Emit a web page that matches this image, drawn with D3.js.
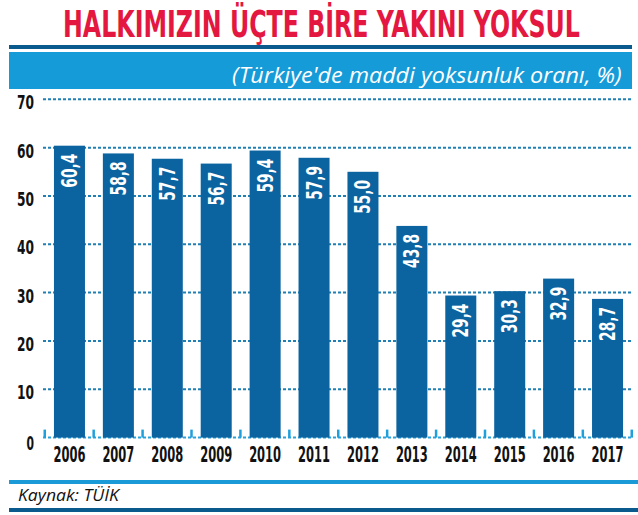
<!DOCTYPE html>
<html>
<head>
<meta charset="utf-8">
<script src="https://cdn.jsdelivr.net/npm/d3@7"></script>
<style>
  body { margin: 0; background: #fff; }
  svg { display: block; }
</style>
</head>
<body>
<div class="chart"></div>
<script>
// chart data
var years = ['2006', '2007', '2008', '2009', '2010', '2011', '2012', '2013', '2014', '2015', '2016', '2017'];
var rates = [60.4, 58.8, 57.7, 56.7, 59.4, 57.9, 55.0, 43.8, 29.4, 30.3, 32.9, 28.7];
var yTicks = [0, 10, 20, 30, 40, 50, 60, 70];
var title = 'HALKIMIZIN ÜÇTE BİRE YAKINI YOKSUL';
var subtitle = '(Türkiye\'de maddi yoksunluk oranı, %)';
var source = 'Kaynak: TÜİK';

var W = 638, H = 515;
var condensed = '"DejaVu Sans Condensed", "Liberation Sans Narrow", sans-serif';

var svg = d3.select('.chart')
  .append('svg')
  .attr('width', W)
  .attr('height', H);

// squeeze a text to a given width (the fonts here are wider than the original)
// x,y = left edge/baseline, rot = optional rotation
function squeeze(node, x, y, width, rot) {
  var len = node.getComputedTextLength();
  var s = width / len;
  var t = 'translate(' + x + ',' + y + ')';
  if (rot) t += ' rotate(' + rot + ')';
  d3.select(node).attr('transform', t + ' scale(' + s + ',1)');
}

// title
svg.append('text')
  .style('font-family', condensed)
  .style('font-weight', 'bold')
  .style('font-size', '37px')
  .style('fill', '#e3173f')
  .text(title)
  .each(function() { squeeze(this, 63, 37, 517); });

// header band
svg.append('rect').attr('x', 9).attr('y', 45).attr('width', 623).attr('height', 4).style('fill', '#0b5a8e');
svg.append('rect').attr('x', 9).attr('y', 52).attr('width', 623).attr('height', 37).style('fill', '#159bd8');

svg.append('text')
  .style('font-family', '"Open Sans", sans-serif')
  .style('font-style', 'italic')
  .style('font-size', '22px')
  .style('fill', '#fff')
  .text(subtitle)
  .each(function() { squeeze(this, 232, 83, 390); });

// scales
var xScale = d3.scaleBand()
  .domain(years)
  .range([45, 632])
  .paddingInner(0.366)
  .paddingOuter(0.183);

var yScale = d3.scaleLinear()
  .domain([0, 70])
  .range([437.6, 99.3]);

// gridlines
svg.append('g')
  .selectAll('line')
  .data(yTicks)
  .enter()
  .append('line')
  .attr('x1', 43)
  .attr('x2', 632)
  .attr('y1', d => yScale(d))
  .attr('y2', d => yScale(d))
  .style('stroke', d => d === 0 ? '#2aa3dc' : '#1f80b6')
  .style('stroke-width', 2)
  .style('stroke-dasharray', '3,2');

// y labels
svg.append('g')
  .selectAll('text')
  .data(yTicks)
  .enter()
  .append('text')
  .style('font-family', condensed)
  .style('font-weight', 'bold')
  .style('font-size', '19px')
  .style('fill', '#111')
  .text(d => d)
  .each(function(d) {
    var w = d === 0 ? 7.5 : 17;
    squeeze(this, 34 - w, yScale(d) + (d === 0 ? 12 : 10), w);
  });

// little marks between bars
var step = xScale.step();
var marks = years.map((y, i) => i).concat([years.length]);
svg.append('g')
  .selectAll('rect')
  .data(marks)
  .enter()
  .append('rect')
  .attr('x', i => 45 + i * step - 1.5)
  .attr('y', yScale(0) - 8)
  .attr('width', 2.5)
  .attr('height', 8)
  .style('fill', '#1fa0dc');

// bars
svg.selectAll('.bar')
  .data(rates)
  .enter()
  .append('rect')
  .attr('class', 'bar')
  .attr('x', (d, i) => xScale(years[i]))
  .attr('y', d => yScale(d))
  .attr('width', xScale.bandwidth())
  .attr('height', d => yScale(0) - yScale(d))
  .style('fill', '#0b64a0');

// value labels, rotated inside the bars, reading upwards
svg.selectAll('.val')
  .data(rates)
  .enter()
  .append('text')
  .attr('class', 'val')
  .style('font-family', condensed)
  .style('font-weight', 'bold')
  .style('font-size', '21px')
  .style('fill', '#fff')
  .text(d => d.toFixed(1).replace('.', ','))
  .each(function(d, i) {
    squeeze(this, xScale(years[i]) + xScale.bandwidth() / 2 + 7.5, yScale(d) + 8 + 34, 34, -90);
  });

// year labels
svg.selectAll('.year')
  .data(years)
  .enter()
  .append('text')
  .attr('class', 'year')
  .style('font-family', condensed)
  .style('font-weight', 'bold')
  .style('font-size', '21px')
  .style('fill', '#111')
  .text(d => d)
  .each(function(d) {
    squeeze(this, xScale(d) + xScale.bandwidth() / 2 - 16, 462, 32);
  });

// footer
svg.append('rect').attr('x', 9).attr('y', 480).attr('width', 629).attr('height', 4).style('fill', '#1a9ad6');
svg.append('rect').attr('x', 9).attr('y', 508).attr('width', 629).attr('height', 4).style('fill', '#0b5a8e');

svg.append('text')
  .style('font-family', '"Open Sans", sans-serif')
  .style('font-style', 'italic')
  .style('font-size', '16px')
  .style('fill', '#111')
  .text(source)
  .each(function() { squeeze(this, 18, 501, 101); });
</script>
</body>
</html>
